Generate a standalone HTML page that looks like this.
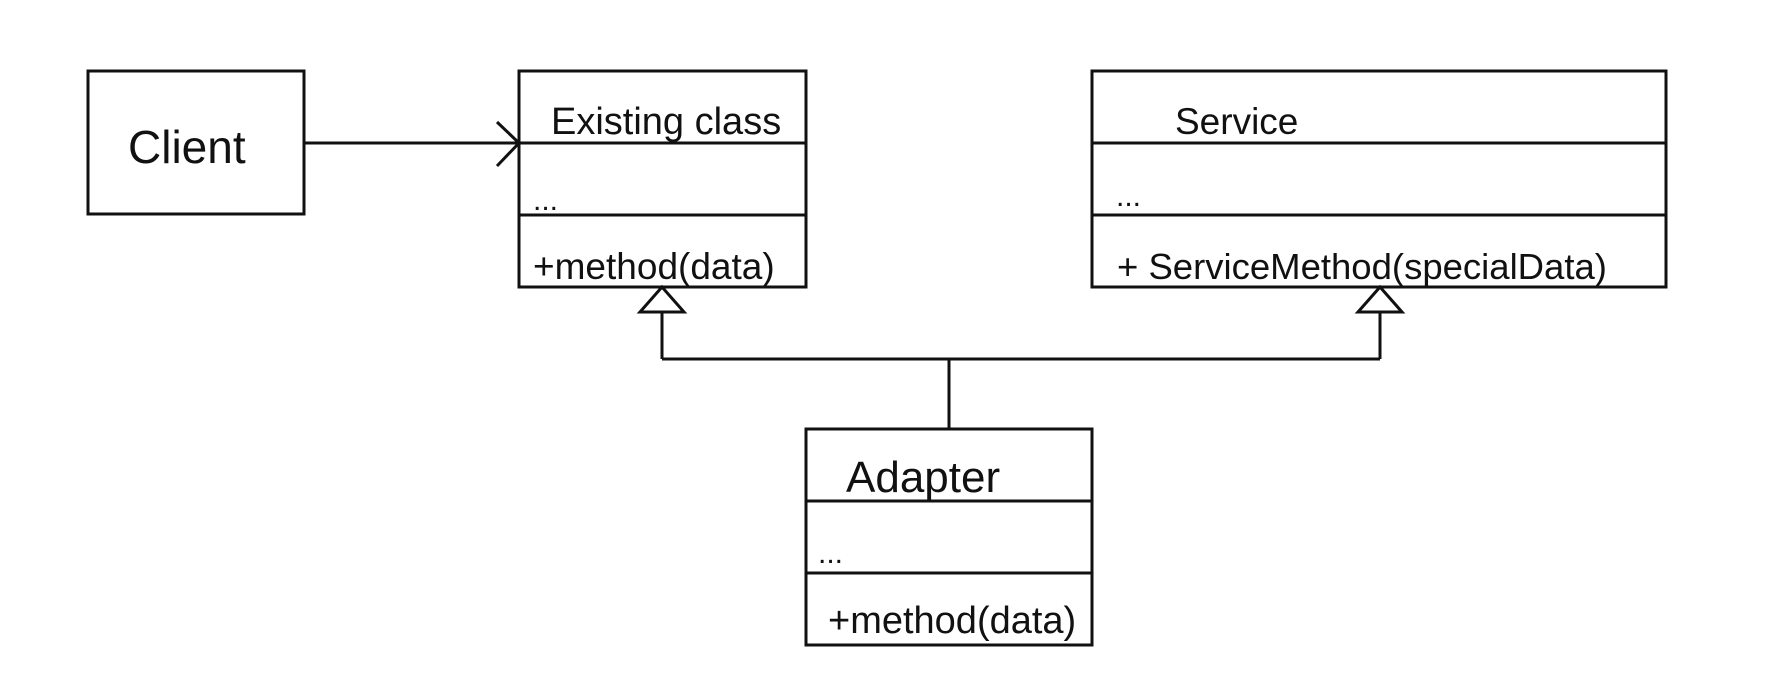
<!DOCTYPE html>
<html><head><meta charset="utf-8"><style>
html,body{margin:0;padding:0;background:#fff;}
svg text{font-family:"Liberation Sans",sans-serif;fill:#111;}
</style></head><body>
<svg width="1780" height="688" viewBox="0 0 1780 688" xmlns="http://www.w3.org/2000/svg">
<g fill="none" stroke="#111" stroke-width="3">
<rect x="88" y="71" width="216" height="143"/>
<rect x="519" y="71" width="287" height="216"/>
<line x1="519" y1="143" x2="806" y2="143"/>
<line x1="519" y1="215" x2="806" y2="215"/>
<rect x="1092" y="71" width="574" height="216"/>
<line x1="1092" y1="143" x2="1666" y2="143"/>
<line x1="1092" y1="215" x2="1666" y2="215"/>
<rect x="806" y="429" width="286" height="216"/>
<line x1="806" y1="501" x2="1092" y2="501"/>
<line x1="806" y1="573" x2="1092" y2="573"/>
<line x1="304" y1="143" x2="519" y2="143"/>
<polyline points="497,122 519,143 497,166"/>
<line x1="662" y1="312" x2="662" y2="359"/>
<line x1="1380" y1="312" x2="1380" y2="359"/>
<line x1="662" y1="359" x2="1380" y2="359"/>
<line x1="949" y1="359" x2="949" y2="429"/>
<polygon points="662,287 640,312 684,312"/>
<polygon points="1380,287 1358,312 1402,312"/>
</g>
<text x="128" y="163" font-size="46">Client</text>
<text x="551" y="134" font-size="38">Existing class</text>
<text x="533" y="210" font-size="30">...</text>
<text x="533" y="279" font-size="37">+method(data)</text>
<text x="1175" y="134" font-size="37">Service</text>
<text x="1116" y="206" font-size="30">...</text>
<text x="1117" y="279" font-size="36.5">+ ServiceMethod(specialData)</text>
<text x="846" y="492" font-size="44">Adapter</text>
<text x="818" y="563" font-size="30">...</text>
<text x="828" y="633" font-size="38">+method(data)</text>
</svg>
</body></html>
